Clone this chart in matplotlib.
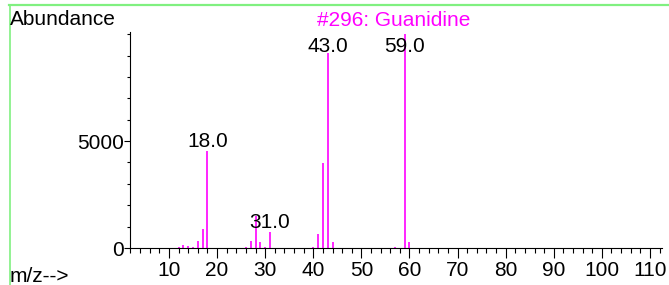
import matplotlib
matplotlib.use("Agg")
import matplotlib.pyplot as plt
from matplotlib.lines import Line2D
from matplotlib.ticker import MultipleLocator

plt.rcParams['font.family'] = ['Liberation Sans', 'DejaVu Sans']

# Data
mz = [12, 13, 14, 15, 16, 17, 18, 26, 27, 28, 29, 30, 31, 40, 41, 42, 43, 44, 57, 59, 60]
abundance = [40, 140, 90, 50, 310, 870, 4530, 60, 310, 1490, 260, 70, 750,
             50, 670, 3970, 9100, 265, 40, 9999, 300]
labeled_mz = [18, 31, 43, 59]
title = "#296: Guanidine"
ytick_values = [0, 5000]

FS = 15

fig = plt.figure(figsize=(6.69, 2.85), dpi=100)
ax = fig.add_axes([130/669, 1 - 248/285, (662-130)/669, (248-32)/285])

ax.vlines(mz, 0, abundance, colors='#FF00FF', linewidth=1.2)

ax.set_xlim(1.9, 112.5)
ax.set_ylim(0, 10100)

for s in ['top', 'right']:
    ax.spines[s].set_visible(False)
for s in ['left', 'bottom']:
    ax.spines[s].set_linewidth(0.8)
    ax.spines[s].set_color('black')

ax.set_xticks(list(range(10, 111, 10)))
ax.xaxis.set_minor_locator(MultipleLocator(2))
ax.set_yticks(ytick_values)
ax.yaxis.set_minor_locator(MultipleLocator(1000))

ax.tick_params(axis='both', which='major', labelsize=FS, width=0.8,
               direction='out', colors='black')
ax.tick_params(axis='x', which='major', length=7, pad=2)
ax.tick_params(axis='x', which='minor', length=3.5, width=0.8)
ax.tick_params(axis='y', which='major', length=4, pad=0.5)
ax.tick_params(axis='y', which='minor', length=2, width=0.8)

# Peak labels
for m in labeled_mz:
    h = abundance[mz.index(m)]
    y = min(h + 190, 9160)
    ax.text(m, y, f"{m:.1f}", ha='center', va='baseline', fontsize=FS, color='black')

fig.text(10/669, 1 - 25/285, "Abundance", ha='left', va='baseline', fontsize=FS)
fig.text(10/669, 1 - 282/285, "m/z-->", ha='left', va='baseline', fontsize=FS)
fig.text(394/669, 1 - 26/285, title, ha='center', va='baseline', fontsize=FS, color='#FF00FF')

# Green frame lines
fig.add_artist(Line2D([9/669, 1.0], [1 - 5/285, 1 - 5/285], transform=fig.transFigure,
                      color='#80F080', linewidth=1.6))
fig.add_artist(Line2D([9.5/669, 9.5/669], [0, 1 - 5/285], transform=fig.transFigure,
                      color='#80F080', linewidth=1.2))

fig.savefig("out.png", dpi=100)
